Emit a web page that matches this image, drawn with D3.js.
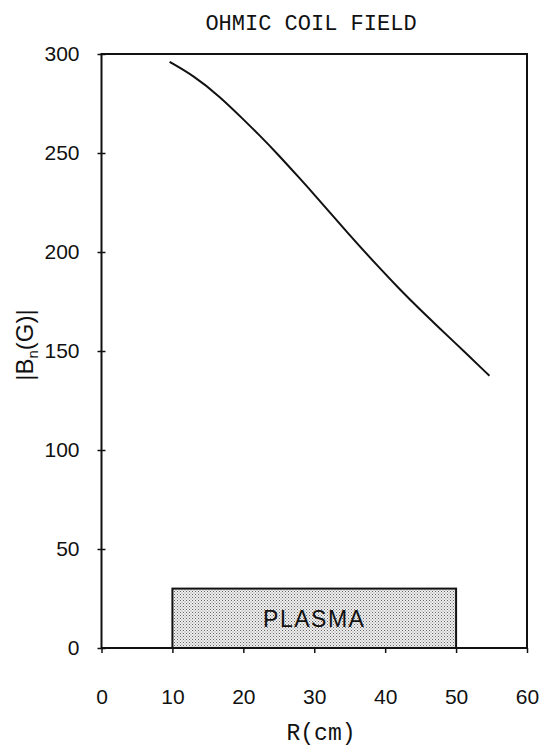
<!DOCTYPE html>
<meta charset="utf-8">
<script src="https://d3js.org/d3.v7.min.js"></script>
<style>
  body { margin: 0; background: #fff; }
  text { fill: #111; }
</style>
<body>
<script>

// curve: radius (cm) and |B_n| (gauss)
var radius = [9.6, 13.0, 16.7, 20.0, 22.4, 24.7, 28.0, 29.9, 34.6, 39.3, 42.1, 44.9, 46.8, 51.5, 54.7];
var field  = [296, 289, 278.5, 267, 258.5, 250, 237, 229.5, 210, 191.5, 181, 171, 164.5, 148.5, 137.5];

// plasma region
var plasmaRange = [10, 50];
var plasmaHeight = 30;

var xTicks = [0, 10, 20, 30, 40, 50, 60];
var yTicks = [0, 50, 100, 150, 200, 250, 300];

var width = 550,
    height = 753;
var margin = {top: 54, right: 23, bottom: 105, left: 101.5};

var svg = d3.select("body").append("svg")
    .attr("width", width)
    .attr("height", height);

var x = d3.scaleLinear().domain([0, 60]).range([margin.left, width - margin.right]);
var y = d3.scaleLinear().domain([0, 300]).range([height - margin.bottom, margin.top]);

// stipple for the plasma box
var pat = svg.append("defs").append("pattern")
    .attr("id", "dots")
    .attr("width", 3)
    .attr("height", 3)
    .attr("patternUnits", "userSpaceOnUse");
pat.append("rect").attr("width", 3).attr("height", 3).attr("fill", "#eeeeee");
pat.append("rect").attr("x", 0).attr("y", 0).attr("width", 1).attr("height", 1).attr("fill", "#666");
pat.append("rect").attr("x", 1.5).attr("y", 1.5).attr("width", 1).attr("height", 1).attr("fill", "#8a8a8a");

svg.append("rect")
    .attr("x", x(plasmaRange[0]))
    .attr("y", y(plasmaHeight))
    .attr("width", x(plasmaRange[1]) - x(plasmaRange[0]))
    .attr("height", y(0) - y(plasmaHeight))
    .attr("fill", "url(#dots)")
    .attr("stroke", "#111")
    .attr("stroke-width", 2);

svg.append("text")
    .attr("x", x((plasmaRange[0] + plasmaRange[1]) / 2))
    .attr("y", y(plasmaHeight / 2))
    .attr("dy", "0.36em")
    .attr("text-anchor", "middle")
    .style("font-family", "'Liberation Sans', Arial, sans-serif")
    .style("font-size", "23px")
    .style("letter-spacing", "1.5px")
    .text("PLASMA");

// frame
svg.append("rect")
    .attr("x", x(0))
    .attr("y", y(300))
    .attr("width", x(60) - x(0))
    .attr("height", y(0) - y(300))
    .attr("fill", "none")
    .attr("stroke", "#111")
    .attr("stroke-width", 2);

// axes
var xAxis = svg.append("g")
    .attr("transform", "translate(0," + y(0) + ")")
    .call(d3.axisBottom(x).tickValues(xTicks).tickSize(5).tickPadding(36).tickFormat(d3.format("d")));

var yAxis = svg.append("g")
    .attr("transform", "translate(" + x(0) + ",0)")
    .call(d3.axisLeft(y).tickValues(yTicks).tickSize(4).tickPadding(18).tickFormat(d3.format("d")));

yAxis.selectAll(".tick line").attr("x1", 4).attr("x2", -4);

[xAxis, yAxis].forEach(function(a) {
    a.select(".domain").remove();
    a.selectAll(".tick line").attr("stroke", "#111").attr("stroke-width", 1.5);
    a.selectAll(".tick text")
        .style("font-family", "'Liberation Sans', Arial, sans-serif")
        .style("font-size", "21px")
        .attr("fill", "#111");
});

// the field curve
var line = d3.line()
    .x(function(d, i) { return x(radius[i]); })
    .y(function(d) { return y(d); })
    .curve(d3.curveBasis);

svg.append("path")
    .datum(field)
    .attr("d", line)
    .attr("fill", "none")
    .attr("stroke", "#111")
    .attr("stroke-width", 2);

// titles
svg.append("text")
    .attr("x", 311)
    .attr("y", 30)
    .attr("text-anchor", "middle")
    .style("font-family", "'Liberation Mono', 'Courier New', monospace")
    .style("font-size", "22px")
    .text("OHMIC COIL FIELD");

svg.append("text")
    .attr("x", 321)
    .attr("y", 740)
    .attr("text-anchor", "middle")
    .style("font-family", "'Liberation Mono', 'Courier New', monospace")
    .style("font-size", "23px")
    .text("R(cm)");

var yl = svg.append("text")
    .attr("transform", "translate(33,345) rotate(-90)")
    .attr("text-anchor", "middle")
    .style("font-family", "'Liberation Sans', Arial, sans-serif")
    .style("font-size", "24px");
yl.append("tspan").text("|B");
yl.append("tspan").attr("dy", 5).style("font-size", "15px").text("n");
yl.append("tspan").attr("dy", -5).text("(G)|");

</script>
</body>
